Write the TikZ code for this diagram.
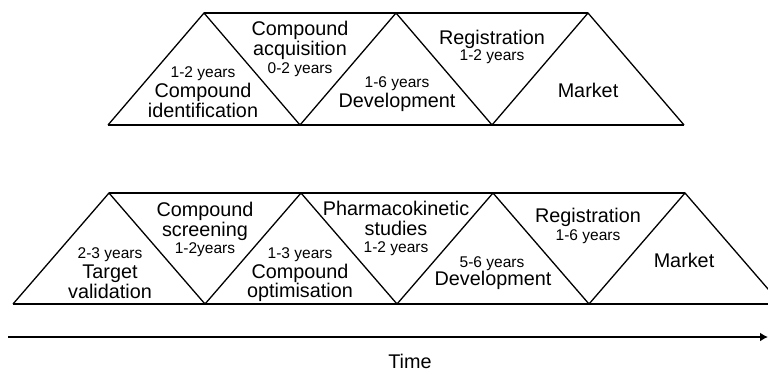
\documentclass[tikz,border=0pt]{standalone}
\usepackage{fontspec}
\setmainfont{Liberation Sans}
\usetikzlibrary{arrows.meta}
\tikzset{
  tri/.style={line width=1.3pt, line join=miter},
  baseln/.style={line width=1.7pt},
  bigtxt/.style={font=\fontsize{19.8}{20}\selectfont, anchor=base, inner sep=0pt},
  smalltxt/.style={font=\fontsize{15.5}{16}\selectfont, anchor=base, inner sep=0pt},
  timeline/.style={line width=2pt, -{Latex[length=8pt,width=9pt]}}
}
\begin{document}
\begin{tikzpicture}[x=1pt,y=-1pt]
 \useasboundingbox (0,0) rectangle (768,373);
 \clip (0,0) rectangle (768,373);
 % upper row
 \draw[tri](108,125)--(204,13)--(300,125)--(396,13)--(492,125)--(588,13)--(684,125);
 \draw[tri](204,13)--(588,13);
 \draw[baseln](108,125)--(684,125);
 \node[smalltxt] (ua1) at (203,77) {1-2 years};
 \node[bigtxt] (ua2) at (203,97) {Compound};
 \node[bigtxt] (ua3) at (203,117) {identification};
 \node[bigtxt] (ub1) at (300,35) {Compound};
 \node[bigtxt] (ub2) at (300,55) {acquisition};
 \node[smalltxt] (ub3) at (300,73) {0-2 years};
 \node[smalltxt] (uc1) at (397,87) {1-6 years};
 \node[bigtxt] (uc2) at (397,107) {Development};
 \node[bigtxt] (ud1) at (492,44) {Registration};
 \node[smalltxt] (ud2) at (492,60) {1-2 years};
 \node[bigtxt] (ue1) at (588,97) {Market};
 % lower row
 \draw[tri](13,304)--(109,193)--(205,304)--(301,193)--(397,304)--(493,193)--(589,304)--(685,193)--(781,304);
 \draw[tri](109,193)--(685,193);
 \draw[baseln](13,304)--(781,304);
 \node[smalltxt] (la1) at (110,258) {2-3 years};
 \node[bigtxt] (la2) at (110,278) {Target};
 \node[bigtxt] (la3) at (110,298) {validation};
 \node[bigtxt] (lb1) at (205,216) {Compound};
 \node[bigtxt] (lb2) at (205,236) {screening};
 \node[smalltxt] (lb3) at (205,253) {1-2years};
 \node[smalltxt] (lc1) at (300,258) {1-3 years};
 \node[bigtxt] (lc2) at (300,278) {Compound};
 \node[bigtxt] (lc3) at (300,297) {optimisation};
 \node[bigtxt] (ld1) at (396,215) {Pharmacokinetic};
 \node[bigtxt] (ld2) at (396,235) {studies};
 \node[smalltxt] (ld3) at (396,252) {1-2 years};
 \node[smalltxt] (le1) at (492,267) {5-6 years};
 \node[bigtxt] (le2) at (493,285) {Development};
 \node[bigtxt] (lf1) at (588,222) {Registration};
 \node[smalltxt] (lf2) at (588,240) {1-6 years};
 \node[bigtxt] (lg1) at (684,267) {Market};
 % time axis
 \coordinate (tstart) at (8,337);
 \coordinate (tend) at (768,337);
 \draw[timeline] (tstart) -- (tend);
 \node[bigtxt] (time) at (410,368) {Time};
\end{tikzpicture}
\end{document}
